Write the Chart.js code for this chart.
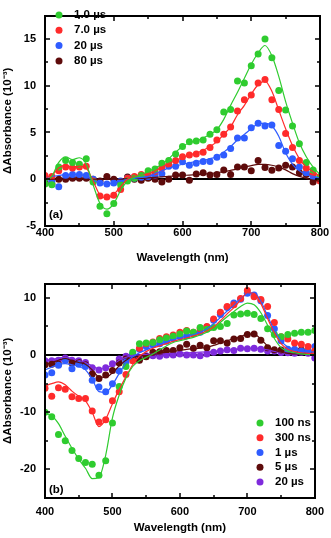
<!DOCTYPE html>
<html>
<head>
<meta charset="utf-8">
<script src="https://cdn.jsdelivr.net/npm/chart.js@4.4.0/dist/chart.umd.min.js"></script>
<style>
    body { margin: 0; background: #fff; }
    canvas { position: absolute; left: 0; }
</style>
</head>
<body>
<canvas id="chartA" width="331" height="268" style="top:0"></canvas>
<canvas id="chartB" width="331" height="270" style="top:268px"></canvas>
<script>
        // Wavelength grid (nm)
        const wavelengths = [400,410,420,430,440,450,460,470,480,490,500,510,520,530,540,550,560,570,580,590,
                             600,610,620,630,640,650,660,670,680,690,700,710,720,730,740,750,760,770,780,790,800];
        const xTicks = [400, 500, 600, 700, 800];
        const xMinorTicks = [450, 550, 650, 750];

        // Panel (a)
        const labelsA = ['1.0 µs', '7.0 µs', '20 µs', '80 µs'];
        const yTicksA = [-5, 0, 5, 10, 15];
        const yMinorA = [-2.5, 2.5, 7.5, 12.5];
        const a1usPts = [-0.5,-0.6,1.3,2.0,1.8,1.6,2.2,-0.3,-2.9,-3.7,-2.6,-0.6,-0.2,0.1,0.4,0.9,1.1,1.7,2.0,2.7,
                         3.5,4.0,4.1,4.2,4.8,5.3,7.2,7.45,10.5,10.3,12.15,13.4,15.0,13.0,9.5,7.4,5.7,3.8,1.8,1.0,0.3];
        const a1usFit = [-0.2,0.3,1.8,2.4,2.1,2.3,1.6,-0.6,-2.6,-3.2,-2.6,-1.2,-0.2,0.2,0.5,0.8,1.2,1.6,2.2,2.9,
                         3.5,3.9,4.1,4.4,4.8,5.3,6.4,7.9,9.3,10.8,12.3,13.5,14.3,13.2,11.0,8.3,6.0,3.9,2.4,1.3,0.5];
        const a7usPts = [0.4,0.3,0.9,1.3,1.2,1.3,1.4,-0.2,-1.8,-1.9,-1.7,-1.1,0.1,0.3,0.5,0.6,0.8,1.2,1.6,2.0,
                         2.4,2.6,2.7,2.9,3.4,4.2,4.8,5.6,7.3,8.5,9.0,10.3,10.66,8.5,7.45,4.9,3.4,2.0,1.2,0.6,-0.2];
        const a7usFit = [0.2,0.4,1.2,1.5,1.3,1.4,1.2,-0.2,-1.7,-2.0,-1.6,-0.8,0.0,0.3,0.5,0.6,0.9,1.3,1.7,2.0,
                         2.3,2.6,2.8,3.1,3.5,4.0,4.8,5.6,6.9,7.9,9.1,10.1,10.5,9.4,7.4,5.4,3.6,2.2,1.3,0.8,0.3];
        const a20usPts = [0.1,-0.2,-0.8,0.4,0.5,0.5,0.4,0.0,-0.4,-0.5,-0.4,-0.2,0.1,0.1,0.2,0.3,0.45,0.6,1.4,1.4,
                          1.87,1.5,1.7,1.9,1.9,2.35,2.6,3.3,4.4,4.4,5.5,6.0,5.7,5.8,3.6,3.0,2.2,1.3,0.7,0.3,0.1];
        const a20usFit = [0.2,0.3,0.4,0.5,0.5,0.5,0.3,-0.1,-0.4,-0.5,-0.4,-0.2,0.0,0.1,0.2,0.3,0.6,0.9,1.2,1.4,
                          1.6,1.75,1.9,2.0,2.2,2.4,2.9,3.5,4.2,4.8,5.4,5.95,6.0,5.7,4.6,2.8,1.6,0.9,0.5,0.3,0.1];
        const a80usPts = [-0.3,-0.5,0.0,0.0,0.1,0.1,0.1,0.0,-0.2,0.3,0.0,-0.3,0.25,0.0,-0.1,0.1,0.0,-0.3,0.0,0.45,
                          0.45,-0.1,0.55,0.7,0.45,0.5,1.0,0.5,1.3,1.3,0.9,2.0,1.25,0.95,1.2,1.5,1.3,0.7,0.5,-0.3,-0.1];
        const a80usFit = [0.0,0.0,0.0,0.0,0.05,0.05,0.0,0.0,0.0,0.0,0.0,0.0,0.05,0.1,0.1,0.15,0.2,0.25,0.3,0.35,
                          0.4,0.45,0.5,0.55,0.6,0.7,0.8,0.95,1.1,1.3,1.45,1.6,1.6,1.5,1.3,1.0,0.6,0.3,0.1,-0.1,-0.2];

        // Panel (b)
        const labelsB = ['100 ns', '300 ns', '1 µs', '5 µs', '20 µs'];
        const yTicksB = [-20, -10, 0, 10];
        const yMinorB = [-15, -5, 5];
        const b100nsPts = [-10.0,-10.8,-13.9,-15.0,-16.7,-18.1,-18.8,-19.1,-21.0,-18.5,-11.9,-5.5,-2.0,0.5,2.0,2.1,2.2,2.7,3.0,3.3,
                           3.7,4.2,4.0,4.8,4.5,4.8,5.0,5.5,7.0,7.2,7.3,7.1,6.4,4.6,3.6,3.2,3.6,3.8,4.0,4.0,4.3];
        const b100nsFit = [-10.2,-10.6,-12.0,-14.2,-16.3,-18.2,-19.8,-21.6,-21.4,-17.5,-11.0,-7.0,-4.0,-2.0,-1.0,-0.4,0.2,0.9,1.6,2.2,
                           2.5,2.8,3.1,3.5,4.0,4.6,5.7,6.7,7.6,8.5,9.1,8.8,7.4,5.2,2.9,1.3,0.7,0.4,0.2,0.1,0.1];
        const b300nsPts = [-5.8,-7.2,-5.7,-6.0,-7.3,-7.6,-7.6,-9.8,-11.7,-11.3,-8.0,-6.4,-3.4,-1.0,1.2,2.0,2.3,2.9,3.2,3.5,
                           4.0,4.3,4.0,4.6,5.0,6.3,7.5,8.5,8.8,9.9,11.3,10.2,9.7,8.5,5.7,3.2,2.8,2.1,1.9,1.5,0.7];
        const b300nsFit = [-5.4,-5.0,-4.7,-5.2,-6.3,-7.2,-8.0,-10.0,-12.5,-11.2,-8.5,-6.0,-3.8,-1.7,-0.2,0.6,1.2,1.6,2.0,2.4,
                           2.7,3.0,3.3,3.7,4.2,4.9,6.0,7.2,8.3,9.6,10.9,10.8,9.0,6.4,3.9,2.0,1.0,0.6,0.4,0.3,0.2];
        const b1usPts = [-3.5,-3.1,-1.8,-0.9,-2.4,-1.6,-2.0,-4.4,-5.6,-6.4,-5.0,-2.8,-1.2,0.0,1.0,1.5,1.8,2.0,2.4,2.9,
                         3.2,3.4,3.75,4.0,4.9,6.1,7.1,8.3,9.1,9.75,10.8,10.5,9.5,6.9,4.6,2.5,1.0,1.0,0.7,0.8,1.5];
        const b1usFit = [-2.6,-2.1,-1.6,-1.5,-1.7,-2.0,-2.6,-4.2,-6.4,-6.5,-5.2,-3.2,-1.4,-0.3,0.4,0.9,1.4,1.8,2.3,2.7,
                         3.0,3.3,3.6,4.0,4.6,5.5,6.6,7.7,8.7,9.8,10.8,10.9,9.4,6.8,4.3,2.5,1.4,0.9,0.7,0.6,0.5];
        const b5usPts = [-1.7,-1.6,-1.6,-0.8,-1.4,-1.3,-1.7,-3.3,-4.1,-3.5,-2.7,-1.4,-0.7,-0.3,-0.9,-0.3,0.5,0.6,0.8,0.8,
                         1.3,1.9,1.2,1.7,1.3,2.5,2.5,2.1,2.8,2.9,3.6,3.7,2.6,1.3,0.95,0.9,0.8,0.8,0.9,0.6,0.5];
        const b5usFit = [-1.6,-1.3,-0.9,-0.6,-1.0,-1.3,-1.6,-2.6,-3.8,-3.9,-3.1,-1.9,-0.9,-0.4,-0.2,-0.1,0.1,0.3,0.5,0.7,
                         0.8,1.0,1.1,1.2,1.4,1.7,2.1,2.5,2.9,3.2,3.7,3.65,2.8,1.6,0.9,0.5,0.3,0.2,0.2,0.1,0.1];
        const b20usPts = [-1.0,-1.0,-0.9,-0.5,-0.9,-1.0,-1.3,-2.2,-2.6,-2.2,-1.5,-0.7,-0.2,0.1,-0.6,-0.1,-0.1,-0.2,0.0,0.0,
                          0.2,0.0,0.0,-0.1,0.2,0.5,0.7,0.95,0.8,1.2,1.1,1.2,1.0,0.7,0.7,0.45,0.4,0.3,0.5,0.3,-0.5];
        const b20usFit = [-1.0,-0.8,-0.55,-0.35,-0.6,-0.9,-1.3,-1.9,-2.4,-2.3,-1.7,-0.9,-0.4,-0.05,0.05,0.1,0.15,0.2,0.25,0.3,
                          0.35,0.4,0.45,0.5,0.55,0.6,0.75,0.85,0.95,1.05,1.15,1.2,1.1,0.9,0.65,0.45,0.3,0.2,0.15,0.1,0.05];

        // Colours
        const GREEN = '#2fcc2f', RED = '#ff2b2b', BLUE = '#2f5cff', BROWN = '#5e0b0b', PURPLE = '#7f2bdc';
        const FONT = "'Liberation Sans', Arial, sans-serif";

        Chart.defaults.font.family = FONT;
        Chart.defaults.color = '#000';

        function pts(ys) {
            return wavelengths.map((w, i) => ({ x: w, y: ys[i] }));
        }

        function pointSet(label, ys, color) {
            return {
                label: label,
                data: pts(ys),
                backgroundColor: color,
                borderColor: color,
                borderWidth: 0,
                pointRadius: 3.5,
                pointHoverRadius: 3.5,
                showLine: false,
                order: 1
            };
        }

        function fitSet(ys, color) {
            return {
                data: pts(ys),
                borderColor: color,
                backgroundColor: color,
                borderWidth: 1.2,
                pointRadius: 0,
                showLine: true,
                cubicInterpolationMode: 'monotone',
                order: 0
            };
        }

        // Zero line behind the data
        const zeroLinePlugin = {
            id: 'zeroLine',
            beforeDatasetsDraw(chart) {
                const ctx = chart.ctx, area = chart.chartArea;
                const y0 = Math.round(chart.scales.y.getPixelForValue(0));
                ctx.save();
                ctx.fillStyle = '#000';
                ctx.fillRect(area.left, y0 - 1, area.right - area.left, 2);
                ctx.restore();
            }
        };

        // Frame, inward ticks, legend and panel label on top
        const framePlugin = {
            id: 'frame',
            afterDraw(chart, args, opts) {
                const ctx = chart.ctx, area = chart.chartArea;
                const sx = chart.scales.x, sy = chart.scales.y;
                const L = Math.round(area.left), R = Math.round(area.right);
                const T = Math.round(area.top), B = Math.round(area.bottom);
                ctx.save();
                ctx.fillStyle = '#000';
                ctx.fillRect(L - 1, T - 1, R - L + 2, 2);
                ctx.fillRect(L - 1, B - 1, R - L + 2, 2);
                ctx.fillRect(L - 1, T - 1, 2, B - T + 2);
                ctx.fillRect(R - 1, T - 1, 2, B - T + 2);

                const xTick = (v, len) => {
                    const px = Math.round(sx.getPixelForValue(v));
                    ctx.fillRect(px - 0.75, B - len, 1.5, len);
                    ctx.fillRect(px - 0.75, T, 1.5, len);
                };
                const yTick = (v, len) => {
                    const py = Math.round(sy.getPixelForValue(v));
                    ctx.fillRect(L, py - 0.75, len, 1.5);
                    ctx.fillRect(R - len, py - 0.75, len, 1.5);
                };
                xTicks.forEach(v => xTick(v, 5));
                xMinorTicks.forEach(v => xTick(v, 3));
                opts.yMajor.forEach(v => yTick(v, 5));
                opts.yMinor.forEach(v => yTick(v, 3));

                // legend
                ctx.font = 'bold 11.5px ' + FONT;
                ctx.textBaseline = 'middle';
                ctx.textAlign = 'left';
                let row = 0;
                chart.data.datasets.forEach(ds => {
                    if (!ds.label) return;
                    const y = opts.legendY + row * opts.legendGap;
                    ctx.fillStyle = ds.backgroundColor;
                    ctx.beginPath();
                    ctx.arc(opts.legendX, y, 3.5, 0, Math.PI * 2);
                    ctx.fill();
                    ctx.fillStyle = '#000';
                    ctx.fillText(ds.label, opts.legendX + 15, y);
                    row++;
                });

                // panel label
                ctx.fillText(opts.panelLabel, L + 4, opts.panelY);
                ctx.restore();
            }
        };

        function makeChart(id, datasets, yMin, yMax, yMajor, yMinor, layout, xHeight, tickPad, frameOpts) {
            const ctx = document.getElementById(id).getContext('2d');
            return new Chart(ctx, {
                type: 'scatter',
                data: { datasets: datasets },
                options: {
                    responsive: false,
                    animation: false,
                    events: [],
                    layout: { padding: layout },
                    plugins: {
                        legend: { display: false },
                        tooltip: { enabled: false },
                        frame: frameOpts
                    },
                    scales: {
                        x: {
                            type: 'linear',
                            min: 400,
                            max: 800,
                            afterBuildTicks: s => { s.ticks = xTicks.map(v => ({ value: v })); },
                            afterFit: s => { s.height = xHeight; },
                            grid: { display: false, drawTicks: false },
                            border: { display: false },
                            ticks: {
                                padding: tickPad,
                                maxRotation: 0,
                                autoSkip: false,
                                font: { size: 11, weight: 'bold' }
                            },
                            title: {
                                display: true,
                                text: 'Wavelength (nm)',
                                font: { size: 11.5, weight: 'bold' },
                                padding: { top: 0, bottom: 3 }
                            }
                        },
                        y: {
                            min: yMin,
                            max: yMax,
                            afterBuildTicks: s => { s.ticks = yMajor.map(v => ({ value: v })); },
                            afterFit: s => { s.width = 45; },
                            grid: { display: false, drawTicks: false },
                            border: { display: false },
                            ticks: {
                                padding: 9,
                                font: { size: 11, weight: 'bold' }
                            },
                            title: {
                                display: true,
                                text: 'ΔAbsorbance (10⁻³)',
                                font: { size: 11.5, weight: 'bold' },
                                padding: { top: 1, bottom: 0 }
                            }
                        }
                    }
                },
                plugins: [zeroLinePlugin, framePlugin]
            });
        }

        makeChart('chartA', [
            fitSet(a1usFit, GREEN),
            fitSet(a7usFit, RED),
            fitSet(a20usFit, BLUE),
            fitSet(a80usFit, BROWN),
            pointSet(labelsA[0], a1usPts, GREEN),
            pointSet(labelsA[1], a7usPts, RED),
            pointSet(labelsA[2], a20usPts, BLUE),
            pointSet(labelsA[3], a80usPts, BROWN)
        ], -5, 17.5, yTicksA, yMinorA,
        { top: 3, right: 11, bottom: 0, left: 0 }, 42, 0,
        { yMajor: yTicksA, yMinor: yMinorA, legendX: 59, legendY: 15, legendGap: 15.3, panelLabel: '(a)', panelY: 215 });

        makeChart('chartB', [
            fitSet(b100nsFit, GREEN),
            fitSet(b300nsFit, RED),
            fitSet(b1usFit, BLUE),
            fitSet(b5usFit, BROWN),
            fitSet(b20usFit, PURPLE),
            pointSet(labelsB[0], b100nsPts, GREEN),
            pointSet(labelsB[1], b300nsPts, RED),
            pointSet(labelsB[2], b1usPts, BLUE),
            pointSet(labelsB[3], b5usPts, BROWN),
            pointSet(labelsB[4], b20usPts, PURPLE)
        ], -25, 12.5, yTicksB, yMinorB,
        { top: 6, right: 11, bottom: 0, left: 0 }, 40, 7,
        { yMajor: yTicksB, yMinor: yMinorB, legendX: 260, legendY: 155, legendGap: 14.75, panelLabel: '(b)', panelY: 222 });
</script>
</body>
</html>
